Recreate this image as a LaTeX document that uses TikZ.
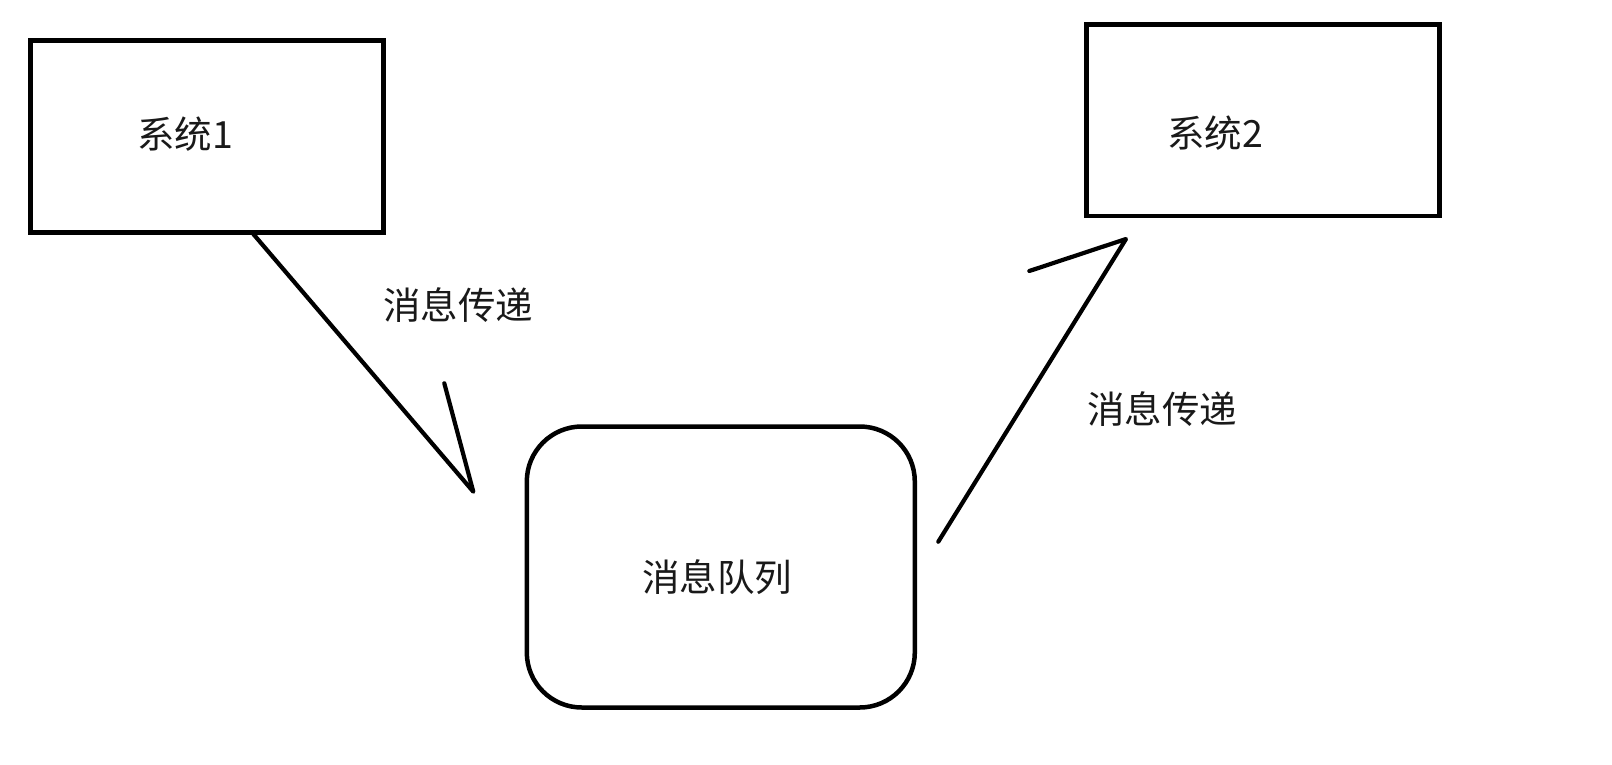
\documentclass[tikz,border=0pt]{standalone}
\usepackage{fontspec}
\setmainfont{Noto Sans CJK SC}
\begin{document}
\begin{tikzpicture}[x=1pt,y=-1pt,
  sysbox/.style={draw,line width=4.5pt,minimum width=352.7pt,minimum height=191.6pt,inner sep=0pt,outer sep=0pt},
  quebox/.style={draw,line width=4.5pt,rounded corners=55pt,minimum width=388pt,minimum height=281pt,inner sep=0pt,outer sep=0pt},
  lbl/.style={inner sep=0pt,font=\fontsize{37.5}{40}\selectfont,text=black!90},
  conn/.style={line width=4.2pt,line cap=round,line join=round}]
\useasboundingbox (0,0) rectangle (1612,764);
\node[sysbox] (s1) at (206.9,136.5) {};
\node[sysbox] (s2) at (1263,120.3) {};
\node[quebox] (q) at (720.8,567) {};
\node[lbl] (t1) at (185,134) {系统1};
\node[lbl] (t2) at (1215,133) {系统2};
\node[lbl] (tq) at (717,577) {消息队列};
\node[lbl] (m1) at (458,305) {消息传递};
\node[lbl] (m2) at (1162,409) {消息传递};
\coordinate (a1s) at (253.3,234);
\coordinate (a1t) at (473.3,491.7);
\coordinate (a1b) at (444.3,383.3);
\coordinate (a2s) at (938.3,541.7);
\coordinate (a2t) at (1126,239);
\coordinate (a2b) at (1029.3,271);
\draw[conn] (a1s) -- (a1t) -- (a1b);
\draw[conn] (a2s) -- (a2t) -- (a2b);
\end{tikzpicture}
\end{document}
